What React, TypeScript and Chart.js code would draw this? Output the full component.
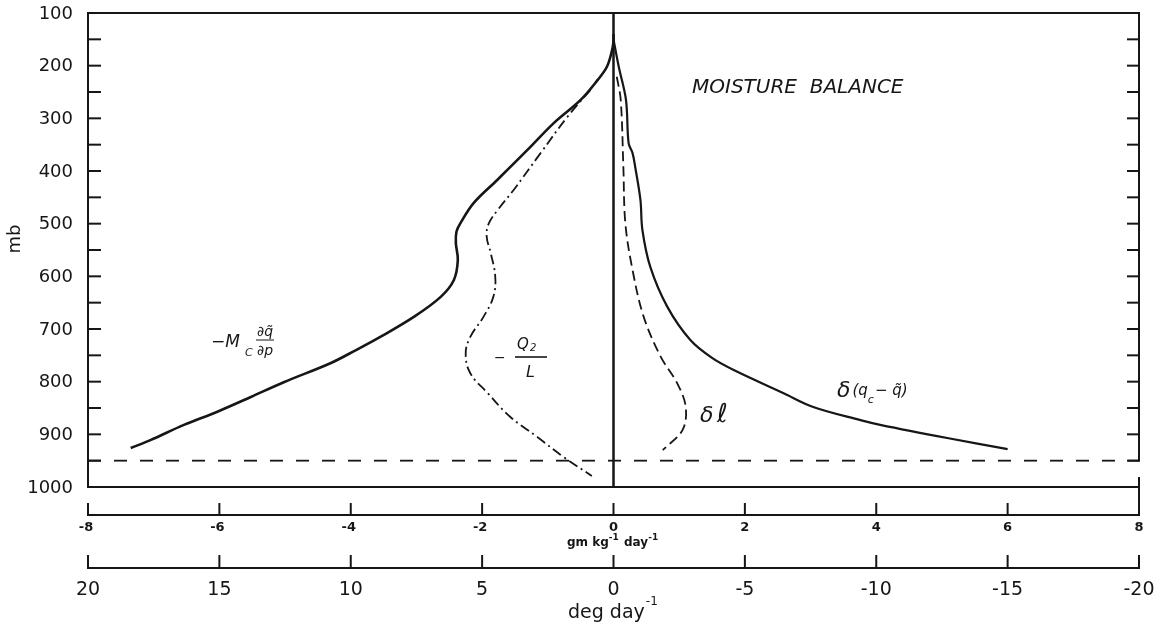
import React, { useEffect, useRef } from "react";
import { Chart, registerables } from "chart.js";

Chart.register(...registerables);

// ---------- data ----------
const pressureLabels = [100, 200, 300, 400, 500, 600, 700, 800, 900, 1000];
const pressureMinorTicks = [150, 200, 250, 300, 350, 400, 450, 500, 550, 600, 650, 700, 750, 800, 850, 900, 950];
const moistureTicks = [-8, -6, -4, -2, 0, 2, 4, 6, 8];
const heatingTicks = [20, 15, 10, 5, 0, -5, -10, -15, -20];

// -Mc dq/dp (solid, left)
const mcX = [0, 0, -0.03, -0.1, -0.24, -0.5, -0.91, -1.31, -1.77, -2.13, -2.33, -2.39, -2.4, -2.37, -2.43, -2.63, -3.04, -3.55, -3.92, -4.31, -5.02, -5.52, -6.03, -6.54, -7.05, -7.35];
const mcP = [140, 155, 175, 202, 227, 265, 309, 360, 417, 461, 499, 515, 537, 569, 607, 639, 677, 715, 740, 765, 801, 829, 857, 882, 911, 926];

// -Q2/L (dash-dot)
const q2X = [-0.35, -0.7, -1.11, -1.52, -1.75, -1.9, -1.93, -1.87, -1.8, -1.83, -1.98, -2.18, -2.25, -2.18, -1.92, -1.57, -1.16, -0.76, -0.33];
const q2P = [246, 297, 366, 436, 472, 500, 525, 555, 601, 639, 677, 715, 746, 784, 821, 867, 905, 943, 979];

// delta l (dashed)
const dlX = [0.05, 0.11, 0.15, 0.18, 0.29, 0.46, 0.72, 0.97, 1.1, 1.05, 0.75];
const dlP = [221, 265, 392, 499, 588, 677, 753, 803, 848, 892, 930];

// delta (qc - q) (solid, right)
const sqX = [0, 0.08, 0.19, 0.23, 0.29, 0.33, 0.41, 0.44, 0.56, 0.82, 1.17, 1.5, 1.83, 2.59, 3.04, 3.76, 4.06, 5.08, 6.0];
const sqP = [150, 202, 265, 347, 366, 392, 455, 512, 582, 658, 721, 755, 778, 822, 848, 873, 882, 907, 928];

// reference lines
const zeroX = [0, 0];
const zeroP = [100, 1000];
const cloudBaseX = [-8, 8];
const cloudBaseP = [950, 950];

const titleText = "MOISTURE  BALANCE";
const moistureUnit = ["gm kg", "-1", " day", "-1"];
const heatingUnit = ["deg day", "-1"];

const toPoints = (xs: number[], ps: number[]) => xs.map((x, i) => ({ x, y: ps[i] }));

const INK = "#161616";
const FONT = "'DejaVu Sans', sans-serif";

const framePlugin = {
  id: "frame",
  afterDatasetsDraw(chart: any) {
    const { ctx, scales } = chart;
    const xs = scales.x;
    const ys = scales.y;
    const hs = scales.x2;
    const seg = (x1: number, y1: number, x2: number, y2: number) => {
      ctx.beginPath();
      ctx.moveTo(x1, y1);
      ctx.lineTo(x2, y2);
      ctx.stroke();
    };
    ctx.save();
    ctx.strokeStyle = INK;
    ctx.fillStyle = INK;
    ctx.lineWidth = 2;
    ctx.lineCap = "butt";

    const L = xs.getPixelForValue(-8);
    const R = xs.getPixelForValue(8);
    const T = ys.getPixelForValue(100);
    const B = ys.getPixelForValue(1000);
    const y950 = ys.getPixelForValue(950);

    // frame
    seg(L - 1, T, R + 1, T);
    seg(L, T, L, B + 1);
    seg(L - 1, B, R + 1, B);
    seg(R, T, R, y950 + 1);
    for (const p of pressureMinorTicks) {
      const y = ys.getPixelForValue(p);
      seg(L, y, L + 13, y);
      seg(R - 12, y, R, y);
    }

    // pressure labels
    ctx.font = `18px ${FONT}`;
    ctx.textAlign = "right";
    ctx.textBaseline = "middle";
    for (const p of pressureLabels) ctx.fillText(String(p), L - 15, ys.getPixelForValue(p) + 1);
    ctx.save();
    ctx.translate(15, 239);
    ctx.rotate(-Math.PI / 2);
    ctx.textAlign = "center";
    ctx.fillText("mb", 0, 0);
    ctx.restore();

    // moisture axis
    const y1 = B + 28;
    seg(L - 1, y1, R + 1, y1);
    for (const v of moistureTicks) {
      const x = xs.getPixelForValue(v);
      seg(x, y1 - 12, x, y1);
    }
    seg(R, B - 10, R, y1);
    ctx.font = `bold 13px ${FONT}`;
    ctx.textAlign = "center";
    ctx.textBaseline = "middle";
    for (const v of moistureTicks) ctx.fillText(String(v), xs.getPixelForValue(v) - (v < 0 ? 2 : 0), y1 + 13);
    // unit
    ctx.textAlign = "left";
    ctx.textBaseline = "alphabetic";
    let ux = 567;
    moistureUnit.forEach((t, i) => {
      const sup = i % 2 === 1;
      ctx.font = sup ? `bold 9px ${FONT}` : `bold 12px ${FONT}`;
      ctx.fillText(t, ux, sup ? 540 : 546);
      ux += ctx.measureText(t).width + (sup ? 1 : 0);
    });

    // heating axis
    const y2 = y1 + 53;
    seg(L - 1, y2, R + 1, y2);
    for (const v of heatingTicks) {
      const x = hs.getPixelForValue(v);
      seg(x, y2 - 13, x, y2);
    }
    ctx.font = `19px ${FONT}`;
    ctx.textAlign = "center";
    ctx.textBaseline = "middle";
    for (const v of heatingTicks) ctx.fillText(String(v), hs.getPixelForValue(v), y2 + 22);
    ctx.textAlign = "left";
    ctx.textBaseline = "alphabetic";
    ctx.font = `19px ${FONT}`;
    const w0 = ctx.measureText(heatingUnit[0]).width;
    ctx.fillText(heatingUnit[0], 568, 618);
    ctx.font = `12px ${FONT}`;
    ctx.fillText(heatingUnit[1], 568 + w0 + 1, 605);

    // title
    ctx.font = `italic 20px ${FONT}`;
    ctx.fillText(titleText, 692, 93);

    // -Mc dq/dp label
    ctx.font = `italic 17px ${FONT}`;
    ctx.fillText("\u2212M", 211, 347);
    ctx.font = `italic 11px ${FONT}`;
    ctx.fillText("C", 245, 356);
    ctx.textAlign = "center";
    ctx.font = `italic 14px ${FONT}`;
    ctx.fillText("\u2202q\u0303", 265, 336);
    ctx.fillText("\u2202p", 265, 355);
    ctx.lineWidth = 1;
    seg(256, 340, 274, 340);

    // -Q2/L label
    ctx.textAlign = "left";
    ctx.font = `14px ${FONT}`;
    ctx.fillText("\u2212", 494, 362);
    ctx.font = `italic 15px ${FONT}`;
    ctx.fillText("Q", 517, 349);
    ctx.font = `italic 10px ${FONT}`;
    ctx.fillText("2", 530, 351);
    ctx.lineWidth = 1.6;
    seg(515, 357, 547, 357);
    ctx.font = `italic 16px ${FONT}`;
    ctx.fillText("L", 526, 377);

    // delta l label
    ctx.font = `italic 22px ${FONT}`;
    ctx.fillText("\u03b4", 700, 422);
    ctx.font = `italic 26px ${FONT}`;
    ctx.fillText("\u2113", 717, 422);

    // delta(qc - q) label
    let lx = 837;
    ctx.font = `italic 22px ${FONT}`;
    ctx.fillText("\u03b4", lx, 397);
    lx += ctx.measureText("\u03b4").width + 2;
    ctx.font = `italic 15px ${FONT}`;
    ctx.fillText("(q", lx, 395);
    lx += ctx.measureText("(q").width;
    ctx.font = `italic 11px ${FONT}`;
    ctx.fillText("c", lx, 403);
    lx += ctx.measureText("c").width + 1;
    ctx.font = `italic 15px ${FONT}`;
    ctx.fillText("\u2212 q\u0303)", lx, 395);

    ctx.restore();
  },
};

export default function App() {
  const canvasRef = useRef<HTMLCanvasElement | null>(null);

  useEffect(() => {
    const canvas = canvasRef.current;
    if (!canvas) return;
    const chart = new Chart(canvas, {
      type: "scatter",
      data: {
        datasets: [
          {
            label: "zero",
            data: toPoints(zeroX, zeroP),
            showLine: true,
            borderColor: INK,
            borderWidth: 2.5,
            pointRadius: 0,
          },
          {
            label: "950 mb",
            data: toPoints(cloudBaseX, cloudBaseP),
            showLine: true,
            borderColor: INK,
            borderWidth: 1.8,
            borderDash: [13, 13],
            pointRadius: 0,
          },
          {
            label: "-Mc dq/dp",
            data: toPoints(mcX, mcP),
            showLine: true,
            borderColor: INK,
            borderWidth: 2.6,
            tension: 0.35,
            pointRadius: 0,
          },
          {
            label: "-Q2/L",
            data: toPoints(q2X, q2P),
            showLine: true,
            borderColor: INK,
            borderWidth: 1.8,
            borderDash: [10, 4, 2, 4],
            tension: 0.4,
            pointRadius: 0,
          },
          {
            label: "delta l",
            data: toPoints(dlX, dlP),
            showLine: true,
            borderColor: INK,
            borderWidth: 1.8,
            borderDash: [10, 5],
            tension: 0.35,
            pointRadius: 0,
          },
          {
            label: "delta(qc-q)",
            data: toPoints(sqX, sqP),
            showLine: true,
            borderColor: INK,
            borderWidth: 2.2,
            tension: 0.35,
            pointRadius: 0,
          },
        ],
      },
      options: {
        responsive: false,
        animation: false,
        devicePixelRatio: 1,
        layout: { padding: { left: 88, right: 16, top: 13, bottom: 140 } },
        plugins: { legend: { display: false }, tooltip: { enabled: false } },
        scales: {
          x: { type: "linear", min: -8, max: 8, display: false },
          y: { type: "linear", min: 100, max: 1000, reverse: true, display: false },
          x2: { type: "linear", axis: "x", min: -20, max: 20, reverse: true, display: false },
        },
      } as any,
      plugins: [framePlugin],
    });
    return () => chart.destroy();
  }, []);

  return (
    <div style={{ position: "absolute", left: 0, top: 0, width: 1155, height: 627, background: "#fff" }}>
      <canvas ref={canvasRef} width={1155} height={627} style={{ display: "block" }} />
    </div>
  );
}
